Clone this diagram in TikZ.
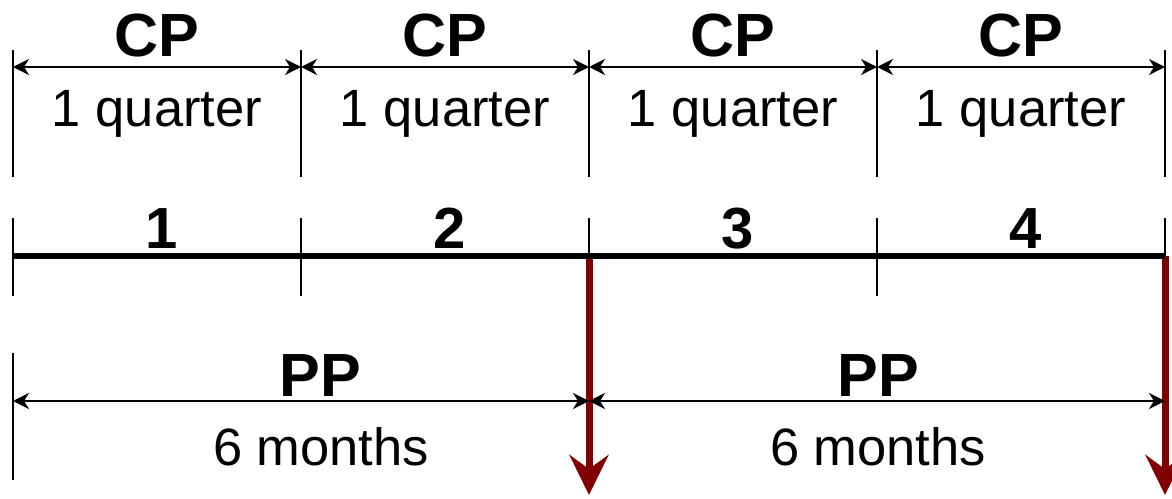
\documentclass[tikz,border=0pt]{standalone}
\usepackage{fontspec}
\setmainfont{Liberation Sans}
\usetikzlibrary{arrows.meta}
\definecolor{payred}{RGB}{128,0,0}

\begin{document}
\begin{tikzpicture}[x=1pt, y=1pt,
  bigbold/.style={font=\fontsize{61}{61}\selectfont\bfseries, anchor=base, inner sep=0pt},
  numbold/.style={font=\fontsize{58}{58}\selectfont\bfseries, anchor=base, inner sep=0pt},
  plain/.style={font=\fontsize{52.5}{52.5}\selectfont, anchor=base, inner sep=0pt},
  dimline/.style={line width=2pt, {Stealth[length=16pt,width=16pt,inset=5pt]}-{Stealth[length=16pt,width=16pt,inset=5pt]}},
  bound/.style={line width=1.8pt},
  payment/.style={line width=7pt, payred, -{Stealth[length=40pt,width=39pt,inset=14pt]}}]
\useasboundingbox (0,0) rectangle (1172,498);
% quarter boundaries
\foreach \i in {0,...,4} {
  \pgfmathsetmacro{\x}{13+\i*288}
  \coordinate (top\i) at (\x,448);
  \coordinate (cp\i) at (\x,431);
  \coordinate (tq\i) at (\x,321);
  \coordinate (up\i) at (\x,280);
  \coordinate (tl\i) at (\x,241.5);
  \coordinate (lo\i) at (\x,202);
  \coordinate (pt\i) at (\x,145);
  \coordinate (pp\i) at (\x,97);
  \coordinate (pb\i) at (\x,18);
  \coordinate (pay\i) at (\x,3);
  \draw[bound] (top\i) -- (tq\i);
}
\foreach \i in {0,...,3} \draw[bound] (up\i) -- (lo\i);
\draw[bound] (up4) -- (tl4);
\foreach \i in {0,2,4} \draw[bound] (pt\i) -- (pb\i);
% CP periods
\foreach \i/\j in {0/1,1/2,2/3,3/4} {
  \pgfmathsetmacro{\xm}{157+\i*288}
  \draw[dimline] (cp\i) -- (cp\j);
  \node[bigbold] (cplab\i) at (\xm,441) {CP};
  \node[plain] (qlab\i) at (\xm,371) {1 quarter};
  \node[numbold] (num\i) at (\xm+5,249) {\j};
}
% payments
\draw[payment] (tl2) -- (pay2);
\draw[payment] (tl4) -- (pay4);
\draw[line width=6pt] (tl0) -- (tl4);
% PP periods
\draw[dimline] (pp0) -- (pp2);
\draw[dimline] (pp2) -- (pp4);
\node[bigbold] (pplab1) at (320,101) {PP};
\node[plain] (mlab1) at (321,33) {6 months};
\node[bigbold] (pplab2) at (878,101) {PP};
\node[plain] (mlab2) at (878,33) {6 months};
\end{tikzpicture}
\end{document}
